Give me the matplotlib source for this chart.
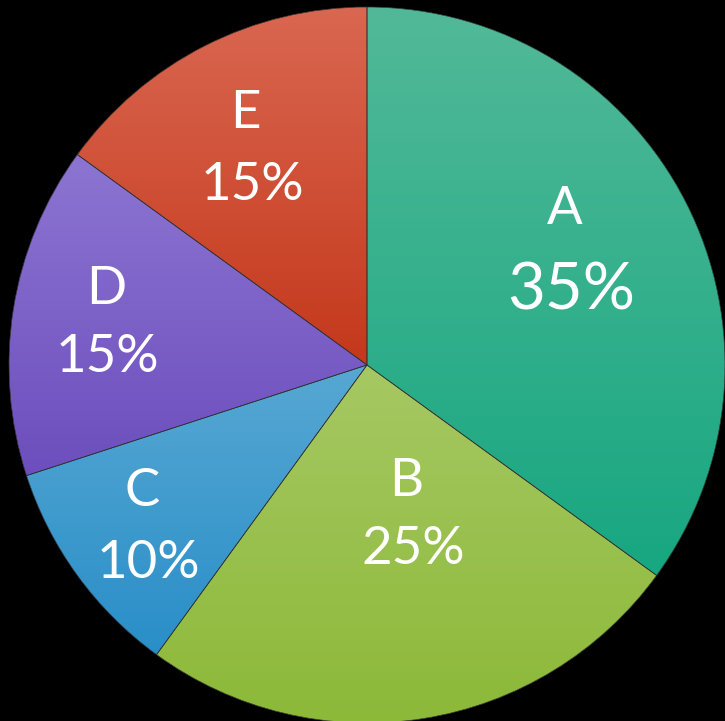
"""
Pie chart of five shares (A-E) on a black background, PowerPoint style:
each slice filled with a soft top-to-bottom gradient, white labels inside.
"""

import matplotlib
matplotlib.use("Agg")
import matplotlib.pyplot as plt
import numpy as np
from matplotlib.colors import LinearSegmentedColormap
from matplotlib.patches import PathPatch

# Data
categories = ["A", "B", "C", "D", "E"]
shares = [35, 25, 10, 15, 15]

# Gradient colours per slice (top, bottom)
TOP_COLORS = ["#52b998", "#a6c863", "#57a8d3", "#8c75d2", "#da6751"]
BOTTOM_COLORS = ["#17a781", "#8cb938", "#298ec8", "#6d4ebd", "#c4381b"]

# Label positions in pixel coords (name, percent) and font sizes
NAME_POS = [(565, 210), (406, 481), (142, 492), (106, 289), (245, 113)]
PCT_POS = [(571, 291), (413, 549), (148, 563), (107, 358), (252, 185)]
NAME_SIZE = [38, 38, 38, 38, 38]
PCT_SIZE = [47, 38, 38, 38, 38]

W, H = 725, 721
CX, CY, R = 367, 365, 358

fig = plt.figure(figsize=(W / 100, H / 100), dpi=100, facecolor="black")
ax = fig.add_axes([0, 0, 1, 1])
ax.set_facecolor("black")

wedges, _ = ax.pie(
    shares,
    startangle=90,
    counterclock=False,
    center=(CX, H - CY),
    radius=R,
    colors=BOTTOM_COLORS,
    wedgeprops=dict(linewidth=0),
    frame=True,
)

# Vertical gradient clipped to each slice
grad = np.linspace(0, 1, 256).reshape(-1, 1)
for w, top, bottom in zip(wedges, TOP_COLORS, BOTTOM_COLORS):
    ext = w.get_path().get_extents()
    cmap = LinearSegmentedColormap.from_list("g", [top, bottom])
    im = ax.imshow(
        grad,
        cmap=cmap,
        aspect="auto",
        extent=(ext.x0, ext.x1, ext.y0, ext.y1),
        origin="upper",
        interpolation="bilinear",
        zorder=w.get_zorder() + 0.1,
    )
    im.set_clip_path(w)

# Thin dark separators between slices, drawn over the gradients
for w in wedges:
    ax.add_patch(PathPatch(w.get_path(), fill=False, edgecolor="#303030",
                           linewidth=0.5, zorder=w.get_zorder() + 0.2))

for name, pct, npos, ppos, ns, ps in zip(categories, shares, NAME_POS,
                                         PCT_POS, NAME_SIZE, PCT_SIZE):
    ax.text(npos[0], H - npos[1], name, color="white", fontsize=ns,
            family="Lato", ha="center", va="center", zorder=10)
    ax.text(ppos[0], H - ppos[1], f"{pct}%", color="white", fontsize=ps,
            family="Lato", ha="center", va="center", zorder=10)

ax.set_xlim(0, W)
ax.set_ylim(0, H)
ax.set_aspect("auto")
ax.axis("off")

fig.savefig("out.png", dpi=100, facecolor="black")
plt.close(fig)
